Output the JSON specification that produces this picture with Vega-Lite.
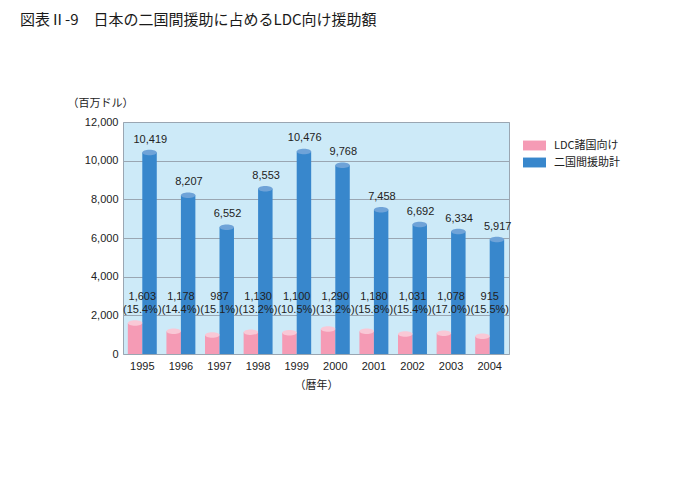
{
  "$schema": "https://vega.github.io/schema/vega-lite/v6.json",
  "autosize": {"type": "none"},
  "width": 386,
  "height": 232,
  "padding": {"left": 123, "top": 122, "right": 191, "bottom": 138},
  "background": "white",
  "title": {
    "text": "図表Ⅱ-9　日本の二国間援助に占めるLDC向け援助額",
    "anchor": "start",
    "frame": "group",
    "dx": -103,
    "offset": 69,
    "font": "Noto Sans CJK JP",
    "fontSize": 15,
    "fontWeight": "normal",
    "color": "#1a1a1a"
  },
  "data": {
    "values": [
      {"year": "1995", "series": "LDC諸国向け", "value": 1603, "pct": "(15.4%)"},
      {"year": "1996", "series": "LDC諸国向け", "value": 1178, "pct": "(14.4%)"},
      {"year": "1997", "series": "LDC諸国向け", "value": 987, "pct": "(15.1%)"},
      {"year": "1998", "series": "LDC諸国向け", "value": 1130, "pct": "(13.2%)"},
      {"year": "1999", "series": "LDC諸国向け", "value": 1100, "pct": "(10.5%)"},
      {"year": "2000", "series": "LDC諸国向け", "value": 1290, "pct": "(13.2%)"},
      {"year": "2001", "series": "LDC諸国向け", "value": 1180, "pct": "(15.8%)"},
      {"year": "2002", "series": "LDC諸国向け", "value": 1031, "pct": "(15.4%)"},
      {"year": "2003", "series": "LDC諸国向け", "value": 1078, "pct": "(17.0%)"},
      {"year": "2004", "series": "LDC諸国向け", "value": 915, "pct": "(15.5%)"},
      {"year": "1995", "series": "二国間援助計", "value": 10419},
      {"year": "1996", "series": "二国間援助計", "value": 8207},
      {"year": "1997", "series": "二国間援助計", "value": 6552},
      {"year": "1998", "series": "二国間援助計", "value": 8553},
      {"year": "1999", "series": "二国間援助計", "value": 10476},
      {"year": "2000", "series": "二国間援助計", "value": 9768},
      {"year": "2001", "series": "二国間援助計", "value": 7458},
      {"year": "2002", "series": "二国間援助計", "value": 6692},
      {"year": "2003", "series": "二国間援助計", "value": 6334},
      {"year": "2004", "series": "二国間援助計", "value": 5917}
    ]
  },
  "encoding": {
    "x": {
      "field": "year",
      "type": "nominal",
      "scale": {"paddingInner": 0.25, "paddingOuter": 0.125},
      "axis": {
        "title": "（暦年）",
        "titleFont": "Noto Sans CJK JP",
        "titleFontSize": 11,
        "titleFontWeight": "normal",
        "titleColor": "#222",
        "titlePadding": 8,
        "labelAngle": 0,
        "labelFont": "Liberation Sans",
        "labelFontSize": 11,
        "labelColor": "#222",
        "labelPadding": 6,
        "domain": false,
        "tickSize": 0
      }
    },
    "y": {
      "field": "value",
      "type": "quantitative",
      "scale": {"domain": [0, 12000], "nice": false},
      "axis": {
        "values": [0, 2000, 4000, 6000, 8000, 10000, 12000],
        "labelExpr": "format(datum.value, ',')",
        "title": "（百万ドル）",
        "titleAngle": 0,
        "titleAlign": "left",
        "titleBaseline": "middle",
        "titleX": -56,
        "titleY": -19,
        "titleFont": "Noto Sans CJK JP",
        "titleFontSize": 11,
        "titleFontWeight": "normal",
        "titleColor": "#222",
        "labelFont": "Liberation Sans",
        "labelFontSize": 11,
        "labelColor": "#222",
        "labelPadding": 5,
        "ticks": false,
        "domain": false,
        "grid": true,
        "gridColor": "#9aa6b2",
        "gridWidth": 1
      }
    }
  },
  "layer": [
    {
      "mark": {"type": "bar", "stroke": null},
      "encoding": {
        "xOffset": {"field": "series", "type": "nominal", "scale": {"paddingInner": 0, "paddingOuter": 0}},
        "color": {
          "field": "series",
          "type": "nominal",
          "scale": {"domain": ["LDC諸国向け", "二国間援助計"], "range": ["#f59bb5", "#3887cc"]},
          "legend": {
            "title": null,
            "orient": "none",
            "legendX": 400,
            "legendY": 12,
            "symbolType": "M-1,-0.43H1V0.43H-1Z",
            "symbolSize": 529,
            "symbolStrokeWidth": 0,
            "rowPadding": -4,
            "labelFont": "Noto Sans CJK JP",
            "labelFontSize": 11,
            "labelColor": "#222",
            "labelOffset": 8
          }
        }
      }
    },
    {
      "mark": {"type": "point", "shape": "M-1,0A1,0.38,0,1,0,1,0A1,0.38,0,1,0,-1,0Z", "filled": true, "opacity": 1, "size": 210, "strokeWidth": 0},
      "encoding": {
        "xOffset": {"field": "series", "type": "nominal"},
        "color": {
          "field": "series",
          "type": "nominal",
          "scale": {"domain": ["LDC諸国向け", "二国間援助計"], "range": ["#f59bb5", "#3887cc"]},
          "legend": null
        },
        "fill": {
          "field": "series",
          "type": "nominal",
          "scale": {"domain": ["LDC諸国向け", "二国間援助計"], "range": ["#f9c8d6", "#6fa3d8"]},
          "legend": null
        }
      }
    },
    {
      "transform": [{"filter": "datum.series === '二国間援助計'"}],
      "mark": {"type": "text", "baseline": "bottom", "dy": -8, "font": "Liberation Sans", "fontSize": 11, "color": "#222", "dx": 8},
      "encoding": {
        "text": {"field": "value", "type": "quantitative", "format": ","}
      }
    },
    {
      "transform": [{"filter": "datum.series === 'LDC諸国向け'"}],
      "mark": {"type": "text", "baseline": "middle", "font": "Liberation Sans", "fontSize": 11, "color": "#222"},
      "encoding": {
        "y": {"datum": 2950},
        "text": {"field": "value", "type": "quantitative", "format": ","}
      }
    },
    {
      "transform": [{"filter": "datum.series === 'LDC諸国向け'"}],
      "mark": {"type": "text", "baseline": "middle", "font": "Liberation Sans", "fontSize": 11, "color": "#222"},
      "encoding": {
        "y": {"datum": 2280},
        "text": {"field": "pct", "type": "nominal"}
      }
    }
  ],
  "resolve": {"scale": {"fill": "independent"}},
  "config": {
    "view": {"fill": "#cdeaf8", "stroke": "#9aa6b2", "strokeWidth": 1}
  }
}
